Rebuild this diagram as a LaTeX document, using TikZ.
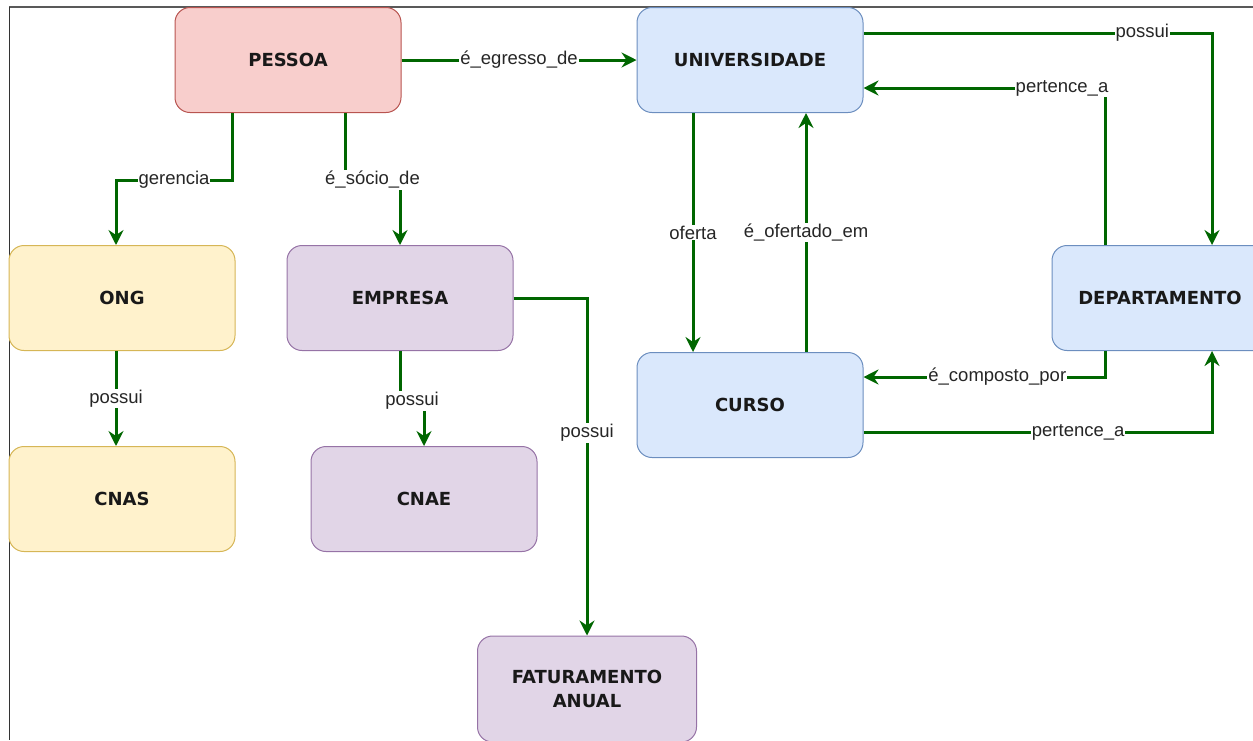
\documentclass[tikz,border=0pt]{standalone}
\usepackage{fontspec}
\setmainfont{Liberation Sans}
\newfontfamily\boxfont{DejaVu Sans}
\usetikzlibrary{arrows.meta}
\definecolor{linkgreen}{HTML}{006600}
\definecolor{redfill}{HTML}{F8CECC}\definecolor{redline}{HTML}{B85450}
\definecolor{bluefill}{HTML}{DAE8FC}\definecolor{blueline}{HTML}{6C8EBF}
\definecolor{yellowfill}{HTML}{FFF2CC}\definecolor{yellowline}{HTML}{D6B656}
\definecolor{purplefill}{HTML}{E1D5E7}\definecolor{purpleline}{HTML}{9673A6}
\definecolor{labeltext}{HTML}{262626}
\begin{document}
\begin{tikzpicture}[x=1pt,y=-1pt,
  entity/.style={rectangle, rounded corners=15pt, line width=1pt, inner sep=0pt,
    minimum width=226pt, minimum height=105pt, align=center,
    font=\boxfont\bfseries\fontsize{18}{24}\selectfont, text=black!90},
  person/.style={entity, fill=redfill, draw=redline},
  uni/.style={entity, fill=bluefill, draw=blueline},
  ngo/.style={entity, fill=yellowfill, draw=yellowline},
  firm/.style={entity, fill=purplefill, draw=purpleline},
  link/.style={draw=linkgreen, line width=3pt,
    -{Stealth[length=15pt,width=15pt,inset=5pt]}},
  lbl/.style={fill=white, inner sep=1pt, text=labeltext,
    font=\fontsize{18.5}{20}\selectfont}]
\useasboundingbox (0,0) rectangle (1253,740);

% page frame
\draw[gray!70!black, line width=1.5pt] (9,7) -- (1253,7);
\draw[black!80, line width=1pt] (9,7) -- (9,740);

% entities
\node[person] (pessoa) at (288,60) {PESSOA};
\node[uni] (univ) at (750,60) {UNIVERSIDADE};
\node[ngo] (ong) at (122,298) {ONG};
\node[firm] (empresa) at (400,298) {EMPRESA};
\node[ngo] (cnas) at (122,499) {CNAS};
\node[firm] (cnae) at (424,499) {CNAE};
\node[firm, minimum width=219pt, minimum height=106pt] (fat) at (587,689) {FATURAMENTO\\ANUAL};
\node[uni, minimum width=216pt] (dept) at (1160,298) {DEPARTAMENTO};
\node[uni] (curso) at (750,405) {CURSO};

% relations
\draw[link] (pessoa) -- node[lbl]{é\_egresso\_de} (univ);
\draw[link] ([xshift=-56pt]pessoa.south) -- ++(0,67)
  -| node[lbl,pos=0.25]{gerencia} ([xshift=-6pt]ong.north);
\draw[link] ([xshift=57pt]pessoa.south) -- ++(0,67)
  -| node[lbl,pos=0.25]{é\_sócio\_de} (empresa.north);
\draw[link] ([xshift=-6pt]ong.south) -- node[lbl]{possui} ([xshift=-6pt]cnas.north);
\draw[link] (empresa.south) -- ++(0,50) -| node[lbl,pos=0.25]{possui} (cnae.north);
\draw[link] (empresa.east) -| node[lbl,pos=0.7]{possui} (fat.north);
\draw[link] ([xshift=-57pt]univ.south) -- node[lbl]{oferta} ([xshift=-57pt]curso.north);
\draw[link] ([xshift=56pt]curso.north) -- node[lbl]{é\_ofertado\_em} ([xshift=56pt]univ.south);
\draw[link] ([yshift=27pt]univ.east) -| node[lbl,pos=0.4]{possui} ([xshift=52pt]dept.north);
\draw[link] ([xshift=-55pt]dept.north) |- node[lbl,pos=0.589]{pertence\_a} ([yshift=-28pt]univ.east);
\draw[link] ([xshift=-55pt]dept.south) |- node[lbl,pos=0.723]{é\_composto\_por} ([yshift=28pt]curso.east);
\draw[link] ([yshift=-27pt]curso.east) -| node[lbl,pos=0.308]{pertence\_a} ([xshift=52pt]dept.south);
\end{tikzpicture}
\end{document}
